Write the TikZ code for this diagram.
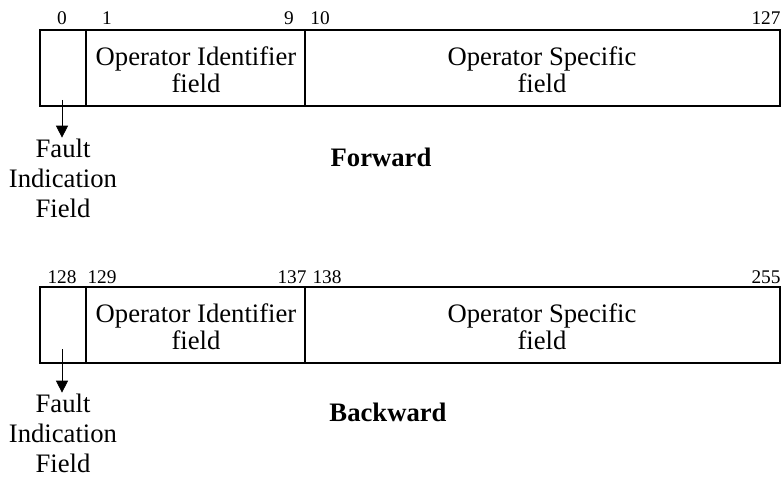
\documentclass[tikz,border=0pt]{standalone}
\usepackage{fontspec}
\setmainfont{Liberation Serif}
\usetikzlibrary{arrows.meta}
\begin{document}
\begin{tikzpicture}[x=0.75pt,y=-0.75pt,
  frame/.style={draw, line width=0.8pt},
  divider/.style={line width=1.3pt},
  bitnum/.style={font=\fontsize{14.5}{16}\selectfont, inner sep=0pt},
  fieldtxt/.style={font=\fontsize{20}{20.5}\selectfont, align=center, inner sep=0pt},
  faulttxt/.style={font=\fontsize{20}{22.5}\selectfont, align=center, inner sep=0pt},
  dirtxt/.style={font=\bfseries\fontsize{20}{22}\selectfont, inner sep=0pt},
  pointer/.style={-{Triangle[length=9pt,width=9pt]}, line width=0.6pt}]
\useasboundingbox (0,0) rectangle (782,478);

% ---------- Forward frame (bits 0..127) ----------
\coordinate (fTL) at (40,30);
\coordinate (fBR) at (780,106);
\draw[frame] (fTL) rectangle (fBR);
\coordinate (fd1t) at (86,30);  \coordinate (fd1b) at (86,106);
\coordinate (fd2t) at (305,30); \coordinate (fd2b) at (305,106);
\draw[divider] (fd1t) -- (fd1b);
\draw[divider] (fd2t) -- (fd2b);

\node[bitnum] (fb0)   at (62,18)  {0};
\node[bitnum] (fb1)   at (107,18) {1};
\node[bitnum] (fb9)   at (289,18) {9};
\node[bitnum] (fb10)  at (320,18) {10};
\node[bitnum] (fb127) at (766,18) {127};

\node[fieldtxt] (fOI) at (196,70) {Operator Identifier\\field};
\node[fieldtxt] (fOS) at (542,70) {Operator Specific\\field};

\coordinate (fArrStart) at (62,100);
\node[faulttxt, anchor=north] (fFault) at (63,139) {Fault\\Indication\\Field};
\draw[pointer] (fArrStart) -- ([yshift=1pt]fFault.north -| fArrStart);

\node[dirtxt] (fDir) at (381,157) {Forward};

% ---------- Backward frame (bits 128..255) ----------
\coordinate (bTL) at (40,287);
\coordinate (bBR) at (780,363);
\draw[frame] (bTL) rectangle (bBR);
\coordinate (bd1t) at (86,287);  \coordinate (bd1b) at (86,363);
\coordinate (bd2t) at (305,287); \coordinate (bd2b) at (305,363);
\draw[divider] (bd1t) -- (bd1b);
\draw[divider] (bd2t) -- (bd2b);

\node[bitnum] (bb128) at (62,277)  {128};
\node[bitnum] (bb129) at (102,277) {129};
\node[bitnum] (bb137) at (292,277) {137};
\node[bitnum] (bb138) at (327,277) {138};
\node[bitnum] (bb255) at (766,277) {255};

\node[fieldtxt] (bOI) at (196,327) {Operator Identifier\\field};
\node[fieldtxt] (bOS) at (542,327) {Operator Specific\\field};

\coordinate (bArrStart) at (62,349);
\node[faulttxt, anchor=north] (bFault) at (63,394) {Fault\\Indication\\Field};
\draw[pointer] (bArrStart) -- ([yshift=1pt]bFault.north -| bArrStart);

\node[dirtxt] (bDir) at (388,412) {Backward};
\end{tikzpicture}
\end{document}
